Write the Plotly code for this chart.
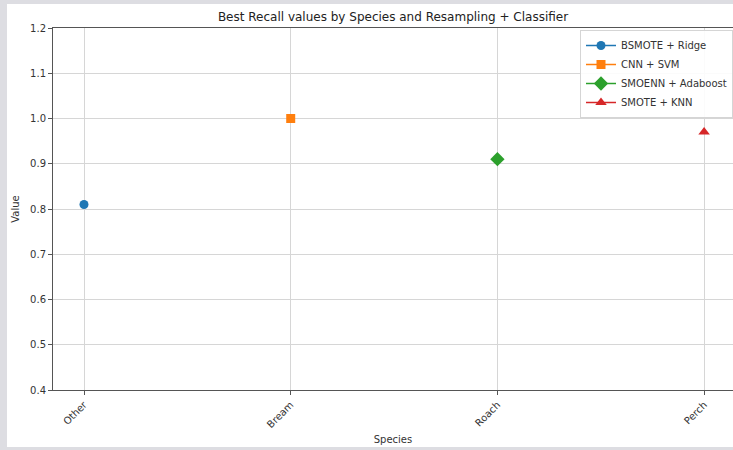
import plotly.graph_objects as go

categories = ["Other", "Bream", "Roach", "Perch"]
series_names = ["BSMOTE + Ridge", "CNN + SVM", "SMOENN + Adaboost", "SMOTE + KNN"]
series_values = [0.81, 1.0, 0.91, 0.97]
y_ticks = [0.4, 0.5, 0.6, 0.7, 0.8, 0.9, 1.0, 1.1, 1.2]

colors = ["#1f77b4", "#ff7f0e", "#2ca02c", "#d62728"]
symbols = ["circle", "square", "diamond", "triangle-up"]
sizes = [9, 9, 11, 10]

FONT = "DejaVu Sans"
W, H = 733, 450
L, R, T, B = 53, 0, 28, 60

fig = go.Figure()
for i, (name, cat, val) in enumerate(zip(series_names, categories, series_values)):
    fig.add_trace(go.Scatter(
        x=[i], y=[val], name=name, mode="lines+markers",
        marker=dict(color=colors[i], symbol=symbols[i], size=sizes[i]),
        line=dict(color=colors[i], width=1.5),
    ))

pw = W - L - R
ph = H - T - B
fig.add_shape(type="rect", xref="paper", yref="paper",
              x0=(7 - L) / pw, x1=(W + 5 - L) / pw,
              y0=(H - B - 447) / ph, y1=(H - B - 4) / ph,
              fillcolor="white", line=dict(width=0), layer="below")

fig.update_layout(
    width=W, height=H,
    margin=dict(l=L, r=R, t=T, b=B, autoexpand=False),
    paper_bgcolor="#dddde2",
    plot_bgcolor="white",
    font=dict(family=FONT, size=10, color="#333333"),
    title=dict(text="Best Recall values by Species and Resampling + Classifier",
               x=393 / W, xanchor="center", y=1 - 17 / H, yanchor="middle",
               font=dict(size=12, color="#222222")),
    showlegend=True,
    legend=dict(x=(580 - L) / pw, y=(H - B - 30) / ph, xanchor="left", yanchor="top",
                bgcolor="rgba(255,255,255,0.9)", bordercolor="#d5d5d5", borderwidth=1,
                font=dict(size=10, color="#333333"), itemwidth=30,
                tracegroupgap=0),
    xaxis=dict(
        range=[-0.15, (pw / 206.7) - 0.15],
        tickmode="array", tickvals=list(range(len(categories))), ticktext=categories,
        tickangle=-45, showgrid=True, gridcolor="#d6d6d6", gridwidth=1,
        showline=True, linecolor="#555555", linewidth=1, mirror=True,
        ticks="outside", ticklen=4, tickcolor="#555555",
        zeroline=False, automargin=False,
        title=dict(text="Species", font=dict(size=10, color="#333333"), standoff=6),
    ),
    yaxis=dict(
        range=[0.4, 1.2],
        tickmode="array", tickvals=y_ticks, ticktext=[f"{v:.1f}" for v in y_ticks],
        showgrid=True, gridcolor="#d6d6d6", gridwidth=1,
        showline=True, linecolor="#555555", linewidth=1, mirror=False,
        ticks="outside", ticklen=4, tickcolor="#555555",
        zeroline=False, automargin=False,
        title=dict(text="Value", font=dict(size=10, color="#333333"), standoff=8),
    ),
)

fig.write_html("out.html", config={"displayModeBar": False},
               post_script="document.body.style.margin='0';document.body.style.overflow='hidden';")
